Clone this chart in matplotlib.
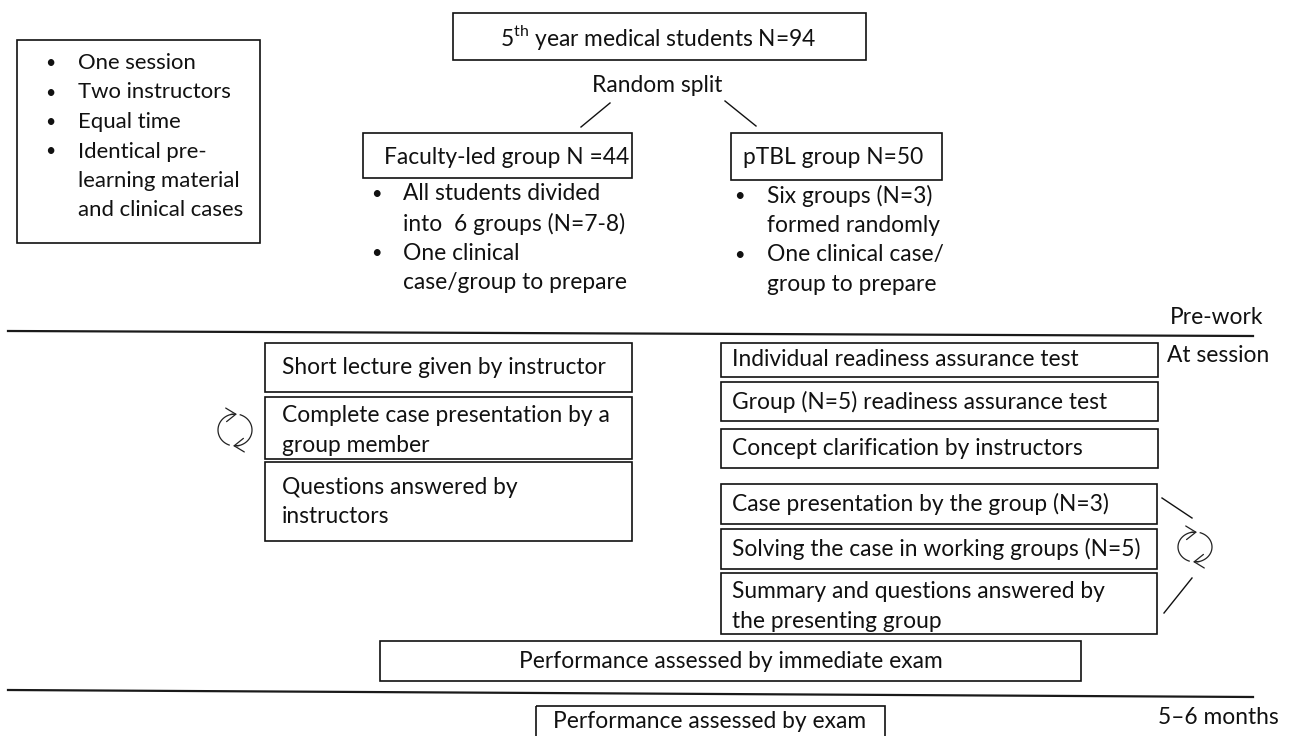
import matplotlib
matplotlib.use('Agg')
import numpy as np
import matplotlib.pyplot as plt
from matplotlib.patches import Rectangle, FancyArrowPatch

plt.rcParams['font.family'] = ['Lato', 'DejaVu Sans']
plt.rcParams['mathtext.fontset'] = 'custom'
plt.rcParams['mathtext.rm'] = 'Lato'

# textos del diagrama
titulo = '5$^{\\mathrm{th}}$ year medical students N=94'
division = 'Random split'
notas = ['One session', 'Two instructors', 'Equal time', 'Identical pre-\nlearning material\nand clinical cases']
grupo_fac = 'Faculty-led group N =44'
grupo_tbl = 'pTBL group N=50'
prep_fac = ['All students divided\ninto  6 groups (N=7-8)', 'One clinical\ncase/group to prepare']
prep_tbl = ['Six groups (N=3)\nformed randomly', 'One clinical case/\ngroup to prepare']
pasos_fac = ['Short lecture given by instructor',
             'Complete case presentation by a\ngroup member',
             'Questions answered by\ninstructors']
pasos_tbl = ['Individual readiness assurance test',
             'Group (N=5) readiness assurance test',
             'Concept clarification by instructors',
             'Case presentation by the group (N=3)',
             'Solving the case in working groups (N=5)',
             'Summary and questions answered by\nthe presenting group']
examen_1 = 'Performance assessed by immediate exam'
examen_2 = 'Performance assessed by exam'
fases = ['Pre-work', 'At session', '5\u20136 months']

FS = 16.4
LS = 29.5  # separacion entre lineas (px)
NEGRO = '#111111'

fig = plt.figure(figsize=(13.03, 7.36), dpi=100)
ax = fig.add_axes([0, 0, 1, 1])
ax.set_xlim(0, 1303)
ax.set_ylim(736, 0)
ax.axis('off')


def caja(x0, y0, x1, y1):
    ax.add_patch(Rectangle((x0, y0), x1 - x0, y1 - y0, fill=False,
                           edgecolor=NEGRO, linewidth=1.2))


def lineas(x, y, texto, ha='left', fs=FS):
    for i, t in enumerate(texto.split('\n')):
        ax.text(x, y + i * LS, t, fontsize=fs, ha=ha, va='center', color=NEGRO)


def viñetas(xb, xt, y, items, fs=FS):
    k = 0
    for it in items:
        ax.text(xb, y + k * LS, '\u2022', fontsize=fs * 0.8, ha='center', va='center', color=NEGRO)
        lineas(xt, y + k * LS, it, fs=fs)
        k += len(it.split('\n'))


def ciclo(cx, cy, rx, ry):
    # dos arcos en sentido horario con punta de flecha
    for a0, a1 in [(250, 97), (72, -83)]:
        th = np.radians(np.linspace(a0, a1, 40))
        xs = cx + rx * np.cos(th)
        ys = cy - ry * np.sin(th)
        ax.plot(xs, ys, color='#222222', lw=0.9)
        ax.add_patch(FancyArrowPatch((xs[-3], ys[-3]), (xs[-1] + (4 if a1 > 0 else -4), ys[-1]),
                                     arrowstyle='->,head_length=0.5,head_width=0.35',
                                     mutation_scale=14, linewidth=0.9,
                                     color='#222222', shrinkA=0, shrinkB=0))


# recuadro de notas
caja(17, 40, 260, 243)
viñetas(50, 78, 63, notas, fs=15.9)

# titulo y division
caja(453, 13, 866, 60)
lineas(658, 37, titulo, ha='center')
lineas(657, 86, division, ha='center')
ax.plot([610, 581], [103, 127], color=NEGRO, lw=1)
ax.plot([725, 756], [101, 126], color=NEGRO, lw=1)

# grupos
caja(363, 133, 632, 178)
lineas(507, 157, grupo_fac, ha='center')
caja(731, 133, 942, 180)
lineas(833, 157, grupo_tbl, ha='center')
viñetas(376, 403, 194, prep_fac)
viñetas(739, 767, 196, prep_tbl)

# lineas de fase
ax.plot([8, 1253], [331, 336], color='#1a1a1a', lw=1.6)
ax.plot([8, 1253], [690, 697], color='#1a1a1a', lw=1.6)
lineas(1217, 318, fases[0], ha='center')
lineas(1218, 355, fases[1], ha='center')
lineas(1218, 718, fases[2], ha='center')

# pasos grupo docente
filas_fac = [(343, 392, 0), (397, 459, 19), (462, 541, 25)]
for (y0, y1, d), t in zip(filas_fac, pasos_fac):
    caja(265, y0, 632, y1)
    lineas(282, y0 + d if d else (y0 + y1) / 2, t)
ciclo(235, 430, 17, 16)

# pasos pTBL
filas_tbl = [(343, 377, 1158), (382, 421, 1158), (429, 468, 1158),
             (484, 524, 1157), (529, 569, 1157), (573, 634, 1157)]
for (y0, y1, x1), t in zip(filas_tbl, pasos_tbl):
    caja(721, y0, x1, y1)
    n = len(t.split('\n'))
    lineas(732, y0 + 19 if n > 1 else (y0 + y1) / 2, t)
ax.plot([1162, 1192], [498, 518], color=NEGRO, lw=1)
ax.plot([1164, 1192], [613, 578], color=NEGRO, lw=1)
ciclo(1195, 547, 17, 15)

# examenes
caja(380, 641, 1081, 681)
lineas(731, 661, examen_1, ha='center')
caja(536, 706, 885, 745)
lineas(710, 722, examen_2, ha='center')

fig.savefig('out.png', dpi=100)
